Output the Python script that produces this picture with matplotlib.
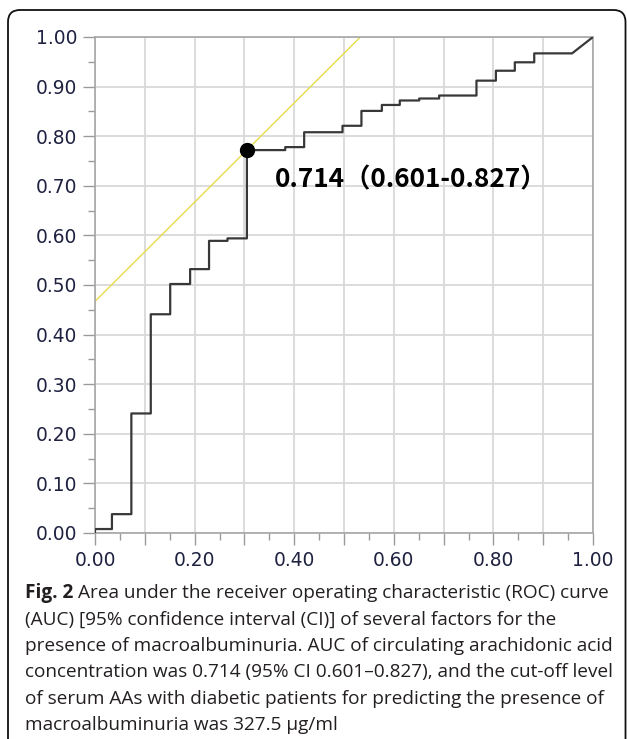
import numpy as np
import matplotlib
matplotlib.use('Agg')
import matplotlib.pyplot as plt
from matplotlib.patches import FancyBboxPatch
from matplotlib.transforms import IdentityTransform
from matplotlib.ticker import MultipleLocator, FuncFormatter

# ROC curve vertices (1 - specificity, sensitivity)
fpr = [0.000, 0.000, 0.034, 0.034, 0.073, 0.073, 0.112, 0.112, 0.151, 0.151,
       0.191, 0.191, 0.229, 0.229, 0.266, 0.266, 0.305, 0.305, 0.382, 0.382,
       0.420, 0.420, 0.497, 0.497, 0.535, 0.535, 0.576, 0.576, 0.612, 0.612,
       0.651, 0.651, 0.691, 0.691, 0.766, 0.766, 0.805, 0.805, 0.843, 0.843,
       0.882, 0.882, 0.958, 1.000]
tpr = [0.000, 0.008, 0.008, 0.038, 0.038, 0.241, 0.241, 0.441, 0.441, 0.502,
       0.502, 0.532, 0.532, 0.589, 0.589, 0.594, 0.594, 0.772, 0.772, 0.778,
       0.778, 0.808, 0.808, 0.821, 0.821, 0.851, 0.851, 0.863, 0.863, 0.872,
       0.872, 0.876, 0.876, 0.882, 0.882, 0.912, 0.912, 0.932, 0.932, 0.949,
       0.949, 0.967, 0.967, 1.000]

# cut-off point and AUC
cut_fpr, cut_tpr = 0.305, 0.772
auc, ci_lo, ci_hi = 0.714, 0.601, 0.827

caption = [
    "(AUC) [95% confidence interval (CI)] of several factors for the",
    "presence of macroalbuminuria. AUC of circulating arachidonic acid",
    "concentration was 0.714 (95% CI 0.601\u20130.827), and the cut-off level",
    "of serum AAs with diabetic patients for predicting the presence of",
    "macroalbuminuria was 327.5 \u00b5g/ml",
]
caption_first = "Area under the receiver operating characteristic (ROC) curve"

W, H = 627, 739
fig = plt.figure(figsize=(W / 100, H / 100), dpi=100)
ax = fig.add_axes([95 / W, 1 - 533 / H, 498 / W, 496 / H])

ax.set_xlim(0, 1)
ax.set_ylim(0, 1)
ax.grid(True, which='major', color='#d9d9d9', lw=1.3)
ax.set_axisbelow(True)

# Youden tangent line through cut-off point (slope 1)
xs = np.array([0, 1])
ax.plot(xs, xs + (cut_tpr - cut_fpr), color='#e5dc4c', lw=1.0, zorder=2)

ax.plot(fpr, tpr, color='#383838', lw=1.6, zorder=3)
ax.plot([cut_fpr], [cut_tpr], 'o', color='black', ms=10, zorder=4)

ax.annotate(f"{auc:.3f}\uff08{ci_lo:.3f}-{ci_hi:.3f}\uff09",
            xy=(cut_fpr, cut_tpr), xytext=(20.4, -26.6), textcoords='offset points',
            ha='left', va='baseline', fontsize=18.9, fontweight='bold',
            family=['Noto Sans CJK JP', 'DejaVu Sans'], color='black')

ax.xaxis.set_major_locator(MultipleLocator(0.1))
ax.xaxis.set_minor_locator(MultipleLocator(0.05))
ax.yaxis.set_major_locator(MultipleLocator(0.1))
ax.yaxis.set_minor_locator(MultipleLocator(0.05))
ax.xaxis.set_major_formatter(FuncFormatter(
    lambda v, p: f"{v:.2f}" if round(v * 10) % 2 == 0 else ""))
ax.yaxis.set_major_formatter(FuncFormatter(lambda v, p: f"{v:.2f}"))

ax.tick_params(which='major', length=8.6, width=1.0, color='#9a9a9a',
               labelsize=13.4, labelcolor='#1e2140', pad=4.2)
ax.tick_params(which='minor', length=5, width=1.0, color='#9a9a9a')
for s in ax.spines.values():
    s.set_color('#a6a6a6')
    s.set_linewidth(1.2)

# rounded frame around the figure
frame = FancyBboxPatch((8, -30), 617.5, H - 10 + 30,
                       boxstyle="round,pad=0,rounding_size=12",
                       transform=IdentityTransform(), fill=False,
                       ec='#111111', lw=1.3)
fig.add_artist(frame)

# caption, sized so the first line spans about the same width as the reference
cap_font = dict(family=['Open Sans', 'DejaVu Sans'], color='#231f20')
x0 = 25 / W
base = 598
step = 26.4
r = fig.canvas.get_renderer()
size = 13.0
t = fig.text(x0, 1 - base / H, "Fig. 2", fontweight='bold', va='baseline',
             fontsize=size, **cap_font)
t2 = fig.text(0, 1 - base / H, caption_first, va='baseline', fontsize=size, **cap_font)
total = t.get_window_extent(r).width + 5 + t2.get_window_extent(r).width
size = size * 583 / total
t.set_fontsize(size)
t2.set_fontsize(size)
bb = t.get_window_extent(r)
t2.set_x((bb.x1 + 5) / W)
for i, line in enumerate(caption):
    fig.text(x0, 1 - (base + step * (i + 1)) / H, line, va='baseline',
             fontsize=size, **cap_font)

fig.savefig('out.png', dpi=100)
